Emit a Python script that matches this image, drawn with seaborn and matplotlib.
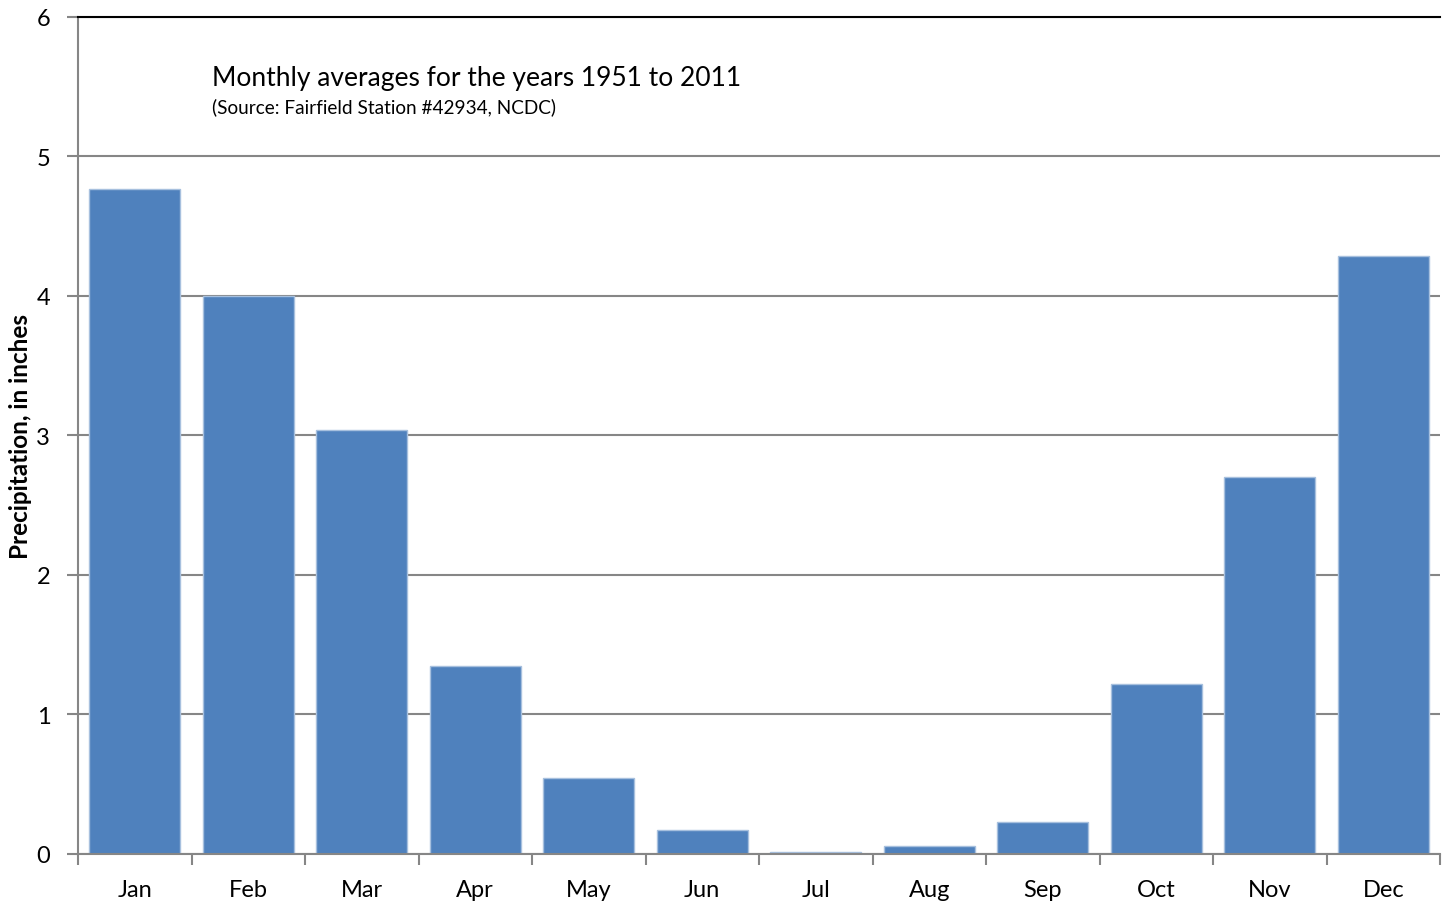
import numpy as np
import pandas as pd
import seaborn as sns
from matplotlib import pyplot as plt
from matplotlib.ticker import FixedLocator

sns.set_style('white')
plt.rcParams['font.family'] = ['Lato', 'DejaVu Sans']
plt.rcParams['text.color'] = 'black'
plt.rcParams['xtick.labelcolor'] = 'black'
plt.rcParams['ytick.labelcolor'] = 'black'

months = ['Jan', 'Feb', 'Mar', 'Apr', 'May', 'Jun', 'Jul', 'Aug', 'Sep', 'Oct', 'Nov', 'Dec']
precip = [4.77, 4.00, 3.04, 1.35, 0.545, 0.17, 0.015, 0.06, 0.23, 1.22, 2.70, 4.29]

df = pd.DataFrame({'Month': months, 'Precip': precip})

fig = plt.figure(figsize=(14.48, 9.03), dpi=100)
ax = fig.add_axes([0.0539, 0.0532, 0.9406, 0.9269])

# gridlines behind bars
ax.set_axisbelow(True)
ax.yaxis.grid(True, color='#868686', linewidth=1.5)

sns.barplot(data=df, x='Month', y='Precip', color='#4F81BD', saturation=1,
            width=0.8, edgecolor='#A7C0DE', linewidth=1, ax=ax)

ax.set_xlim(-0.5, 11.5)
ax.set_ylim(0, 6)
ax.set_yticks(range(0, 7))
ax.tick_params(axis='y', direction='out', length=8, width=1.5, color='#868686',
               labelsize=17, pad=12, left=True)
ax.tick_params(axis='x', which='major', length=0, labelsize=17, pad=18)
ax.xaxis.set_minor_locator(FixedLocator(np.arange(-0.5, 12, 1)))
ax.tick_params(axis='x', which='minor', direction='out', length=8, width=1.5,
               color='#868686', bottom=True)

ax.set_xlabel('')
ax.set_ylabel('Precipitation, in inches', fontsize=17.5, fontweight='bold', labelpad=3,
              color='black')

for s in ['left', 'bottom']:
    ax.spines[s].set_color('#868686')
    ax.spines[s].set_linewidth(1.5)
ax.spines['top'].set_color('black')
ax.spines['top'].set_linewidth(1.5)
ax.spines['right'].set_visible(False)

ax.text(0.098, 0.928, 'Monthly averages for the years 1951 to 2011', transform=ax.transAxes,
        fontsize=19, va='center', ha='left')
ax.text(0.098, 0.893, '(Source: Fairfield Station #42934, NCDC)', transform=ax.transAxes,
        fontsize=13.7, va='center', ha='left')

fig.savefig('out.png', dpi=100)
